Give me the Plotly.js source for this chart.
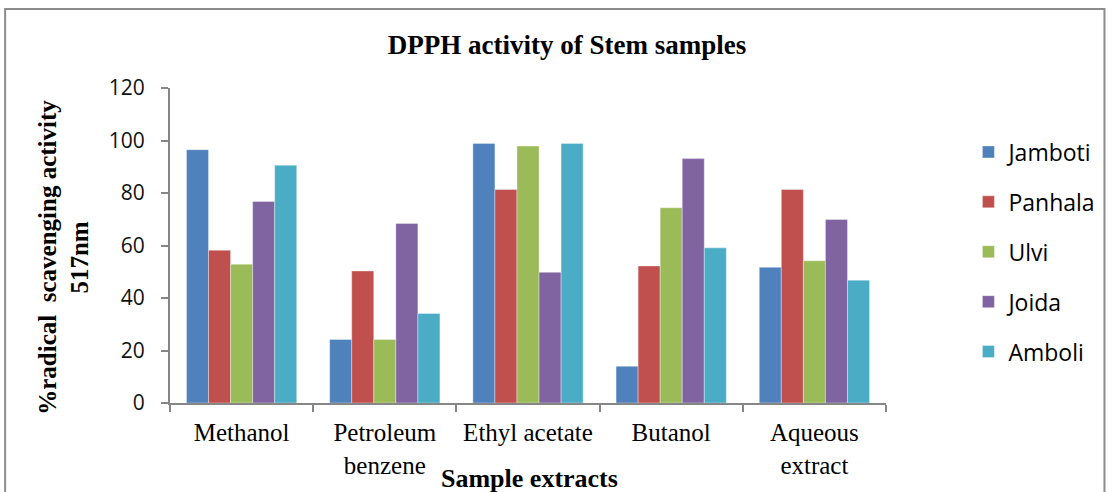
<!DOCTYPE html>
<html><head><meta charset="utf-8">
<script src="https://cdn.plot.ly/plotly-3.0.1.min.js"></script>
<style>html,body{margin:0;padding:0;background:#fff}#chart{width:1112px;height:492px}</style>
</head><body><div id="chart"></div>
<script>
const categories = ["Methanol", "Petroleum<br>benzene", "Ethyl acetate", "Butanol", "Aqueous<br>extract"];
const seriesNames = ["Jamboti", "Panhala", "Ulvi", "Joida", "Amboli"];
const jamboti = [96.5, 24.2, 98.9, 14.0, 51.7];
const panhala = [58.2, 50.3, 81.3, 52.2, 81.3];
const ulvi    = [52.9, 24.2, 97.9, 74.4, 54.2];
const joida   = [76.8, 68.4, 49.8, 93.1, 69.9];
const amboli  = [90.6, 34.1, 98.9, 59.1, 46.8];
const yTicks = [0, 20, 40, 60, 80, 100, 120];
const colors = ["#4F81BD", "#C0504D", "#9BBB59", "#8064A2", "#4BACC6"];

const allSeries = [jamboti, panhala, ulvi, joida, amboli];
const traces = allSeries.map((vals, i) => ({
  type: "bar", x: categories, y: vals, name: seriesNames[i], legendgroup: "g" + i,
  marker: {color: colors[i], line: {color: "rgba(255,255,255,0.6)", width: 0.6}},
  hoverinfo: "x+y+name"
}));

const L = 170, R = 891, T = 88, B = 403, W = 1112, H = 492;
const pw = R - L, ph = B - T;
const px = v => (v - L) / pw;
const py = v => (B - v) / ph;
const serif = "Liberation Serif, Times New Roman, serif";
const sans = "Open Sans, Liberation Sans, sans-serif";

const layout = {
  width: W, height: H,
  margin: {l: L, r: W - R, t: T, b: H - B, pad: 0},
  paper_bgcolor: "#fff", plot_bgcolor: "#fff",
  barmode: "group", bargap: 0.23, bargroupgap: 0,
  showlegend: true,
  title: {text: "<b>DPPH activity of Stem samples</b>", x: 567 / W, xanchor: "center", y: 1 - 45 / H, yanchor: "middle",
          font: {family: serif, size: 27, color: "#000"}},
  xaxis: {
    type: "category", tickson: "boundaries", ticks: "outside", ticklen: 7, tickwidth: 2, tickcolor: "#868686",
    showline: true, linecolor: "#868686", linewidth: 2, showgrid: false, zeroline: false,
    tickangle: 0, automargin: false, ticklabelstandoff: 6,
    tickfont: {family: serif, size: 25, color: "#000"},
    fixedrange: true
  },
  yaxis: {
    range: [0, 120], tickvals: yTicks, ticktext: yTicks.map(String), ticks: "outside", ticklen: 7, tickwidth: 2,
    tickcolor: "#868686", showline: true, linecolor: "#868686", linewidth: 2, showgrid: false, zeroline: false,
    automargin: false, ticklabelstandoff: 12,
    tickfont: {family: sans, size: 21, color: "#111"},
    fixedrange: true
  },
  legend: {
    x: px(974), xanchor: "left", y: py(252), yanchor: "middle",
    font: {family: sans, size: 23, color: "#000"},
    traceorder: "grouped", tracegroupgap: 17, itemwidth: 30, bgcolor: "rgba(0,0,0,0)"
  },
  annotations: [{
    text: "<b>Sample extracts</b>", xref: "paper", yref: "paper", x: px(532), y: py(478),
    xanchor: "center", yanchor: "middle", showarrow: false,
    font: {family: serif, size: 26, color: "#000"}
  }, {
    text: "<b>%radical  scavenging activity<br>517nm</b>", xref: "paper", yref: "paper", x: px(63), y: py(257),
    xanchor: "center", yanchor: "middle", showarrow: false, textangle: -90,
    font: {family: serif, size: 25, color: "#000"}
  }],
  shapes: [{
    type: "rect", xref: "paper", yref: "paper", x0: px(4), x1: px(1111), y0: py(500), y1: py(9),
    line: {color: "#8c8c8c", width: 2}, fillcolor: "rgba(0,0,0,0)", layer: "below"
  }]
};

Plotly.newPlot("chart", traces, layout, {displayModeBar: false, responsive: false});
</script></body></html>
